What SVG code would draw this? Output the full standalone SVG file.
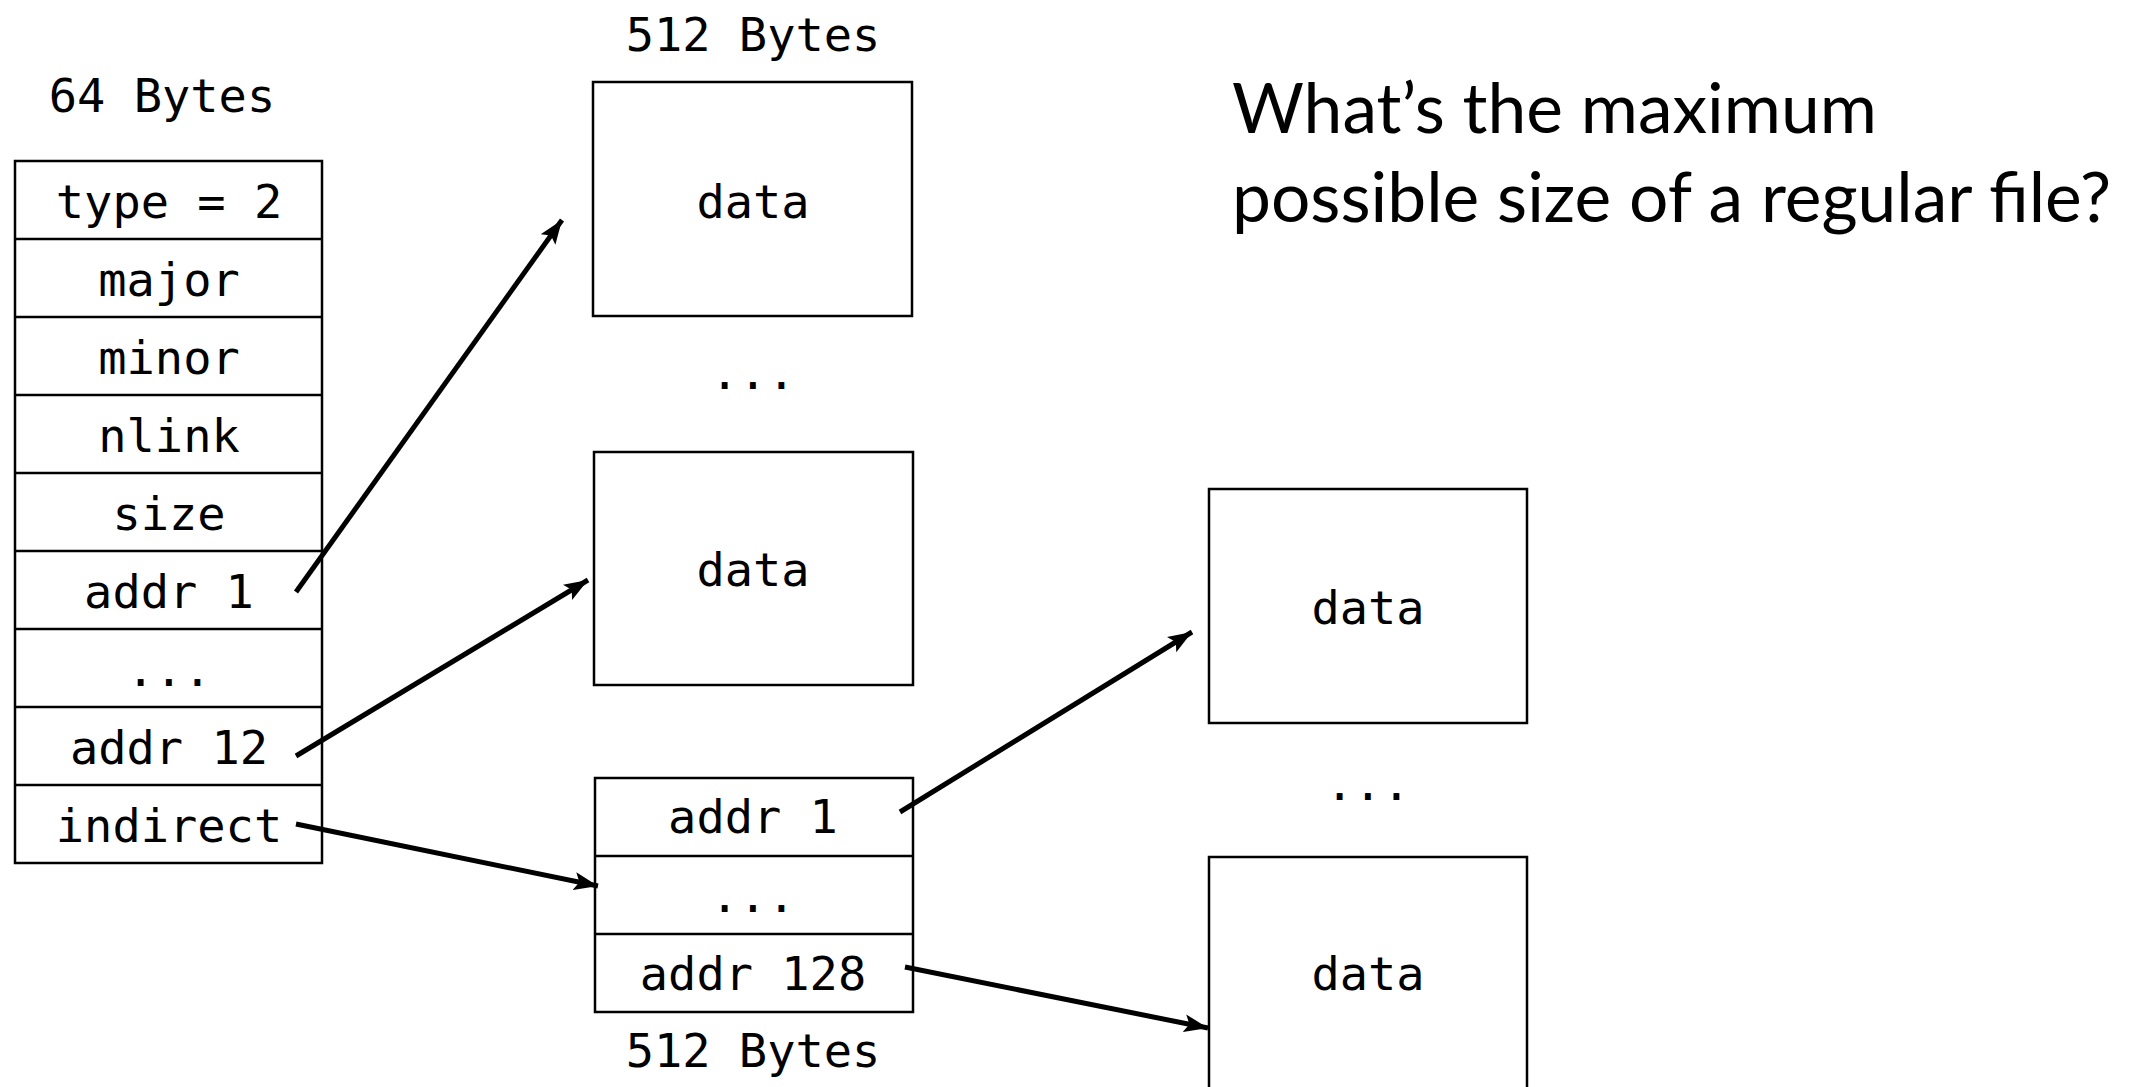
<svg xmlns="http://www.w3.org/2000/svg" width="2142" height="1087" viewBox="0 0 2142 1087">
<defs>
<style>
.box{fill:#fff;stroke:#000;stroke-width:2.5}
.sep{stroke:#000;stroke-width:2.5}
.mono{font-family:"DejaVu Sans Mono","Liberation Mono",monospace;font-size:47px;fill:#000;text-anchor:middle}
.q{font-family:Lato,"Open Sans",sans-serif;font-size:69.5px;fill:#000}
.arr{stroke:#000;stroke-width:5;fill:none;marker-end:url(#ah)}
</style>
<marker id="ah" markerUnits="userSpaceOnUse" markerWidth="26" markerHeight="20" refX="24" refY="9" orient="auto" viewBox="0 0 26 18">
<path d="M0,0 L24,9 L0,18 L5,9 Z" fill="#000"/>
</marker>
</defs>
<rect width="2142" height="1087" fill="#fff"/>

<g id="inode">
<text class="mono" x="162" y="112">64 Bytes</text>
<rect class="box" x="15" y="161" width="307" height="702"/>
<line class="sep" x1="15" y1="239" x2="322" y2="239"/>
<line class="sep" x1="15" y1="317" x2="322" y2="317"/>
<line class="sep" x1="15" y1="395" x2="322" y2="395"/>
<line class="sep" x1="15" y1="473" x2="322" y2="473"/>
<line class="sep" x1="15" y1="551" x2="322" y2="551"/>
<line class="sep" x1="15" y1="629" x2="322" y2="629"/>
<line class="sep" x1="15" y1="707" x2="322" y2="707"/>
<line class="sep" x1="15" y1="785" x2="322" y2="785"/>
<text class="mono" x="169" y="218">type = 2</text>
<text class="mono" x="169" y="296">major</text>
<text class="mono" x="169" y="374">minor</text>
<text class="mono" x="169" y="452">nlink</text>
<text class="mono" x="169" y="530">size</text>
<text class="mono" x="169" y="608">addr 1</text>
<text class="mono" x="169" y="686">...</text>
<text class="mono" x="169" y="764">addr 12</text>
<text class="mono" x="169" y="842">indirect</text>
</g>

<g id="data1">
<text class="mono" x="753" y="51">512 Bytes</text>
<rect class="box" x="593" y="82" width="319" height="234"/>
<text class="mono" x="753" y="218">data</text>
</g>
<text class="mono" x="753" y="389">...</text>
<g id="data2">
<rect class="box" x="594" y="452" width="319" height="233"/>
<text class="mono" x="753" y="586">data</text>
</g>

<g id="indirect-block">
<rect class="box" x="595" y="778" width="318" height="234"/>
<line class="sep" x1="595" y1="856" x2="913" y2="856"/>
<line class="sep" x1="595" y1="934" x2="913" y2="934"/>
<text class="mono" x="753" y="833">addr 1</text>
<text class="mono" x="753" y="912">...</text>
<text class="mono" x="753" y="990">addr 128</text>
<text class="mono" x="753" y="1067">512 Bytes</text>
</g>

<g id="data3">
<rect class="box" x="1209" y="489" width="318" height="234"/>
<text class="mono" x="1368" y="624">data</text>
</g>
<text class="mono" x="1368" y="800">...</text>
<g id="data4">
<rect class="box" x="1209" y="857" width="318" height="240"/>
<text class="mono" x="1368" y="990">data</text>
</g>

<g id="question">
<text class="q" x="1232" y="133">What’s the maximum</text>
<text class="q" x="1232" y="222">possible size of a regular file?</text>
</g>

<g id="connectors">
<line class="arr" x1="296" y1="592" x2="562" y2="220"/>
<line class="arr" x1="296" y1="756" x2="588" y2="580"/>
<line class="arr" x1="296" y1="824" x2="598" y2="886"/>
<line class="arr" x1="900" y1="812" x2="1192" y2="632"/>
<line class="arr" x1="905" y1="967" x2="1208" y2="1028"/>
</g>
</svg>
